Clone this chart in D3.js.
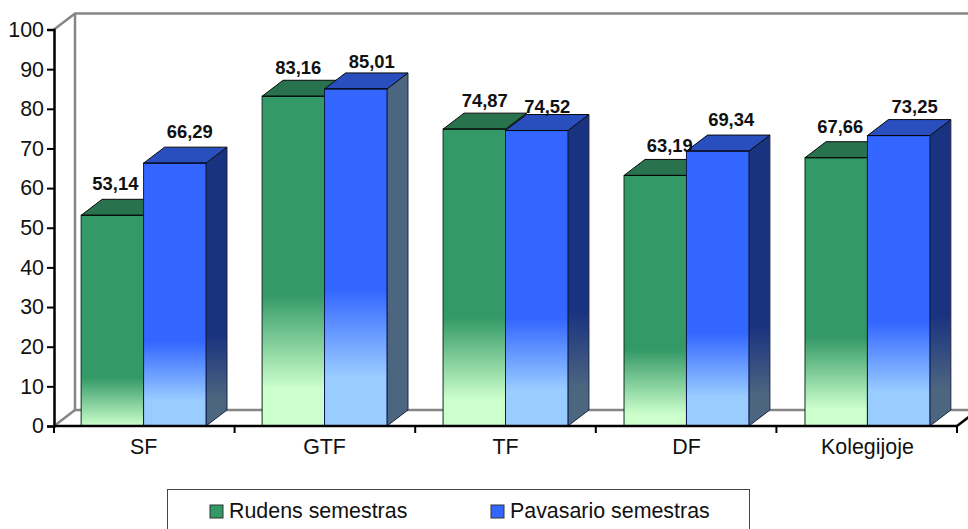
<!DOCTYPE html>
<html><head><meta charset="utf-8">
<script src="https://cdn.jsdelivr.net/npm/d3@7/dist/d3.min.js"></script>
<style>html,body{margin:0;background:#fff;overflow:hidden}svg{display:block}text{font-family:"Liberation Sans",Arial,sans-serif}</style>
</head><body><svg id="c" width="968" height="529"></svg>
<script>
const categories = ["SF","GTF","TF","DF","Kolegijoje"];
const seriesNames = ["Rudens semestras","Pavasario semestras"];
const rudens = [53.14,83.16,74.87,63.19,67.66];
const pavasario = [66.29,85.01,74.52,69.34,73.25];
const labelsRudens = ["53,14","83,16","74,87","63,19","67,66"];
const labelsPavasario = ["66,29","85,01","74,52","69,34","73,25"];
const yTicks = [0,10,20,30,40,50,60,70,80,90,100];

const svg = d3.select("#c");
const L=54,R=957,T=29.5,B=426,DX=21,DY=-16;
const x0 = d3.scaleBand().domain(categories).range([L,R]).paddingInner(0.31).paddingOuter(0.15);
const x1 = d3.scaleBand().domain([0,1]).range([0,x0.bandwidth()]);
const y = d3.scaleLinear().domain([0,100]).range([B,T]);
const palette = [
 {front:"#339966",low:"#ccffcc",top:"#28724e",sideA:"#28724e",sideB:"#4d6680",edge:"#0c2f1e",fadeEnd:-18},
 {front:"#3366ff",low:"#99ccff",top:"#294fbf",sideA:"#1a3380",sideB:"#4d6680",edge:"#0a1a55",fadeEnd:-15.5}
];
// hand-placed data labels: offsets from the top-centre of each bar
const labelNudge = [
 [[3,-25.5],[5,-22],[10.5,-22],[14.5,-23],[4,-25]],
 [[15,-25],[16,-21],[10.5,-18],[13.5,-25],[16,-23]]
];
const defs = svg.append("defs");
const wall = svg.append("g").attr("fill","none").attr("stroke","#868686").attr("stroke-width",2.5);
const poly = pts => pts.map(p=>p.join(",")).join(" ");
wall.append("polyline").attr("points",poly([[L,y(100)],[L+DX,y(100)+DY],[968,y(100)+DY]]));
wall.append("polyline").attr("points",poly([[L+DX,y(100)+DY],[L+DX,B+DY],[968,B+DY]]));
wall.append("line").attr("x1",L).attr("y1",B).attr("x2",L+DX).attr("y2",B+DY);
wall.append("line").attr("x1",R).attr("y1",B).attr("x2",R+DX).attr("y2",B+DY).attr("stroke","#000");

function grad(id,a,b,v,fadeEnd){
  const s = Math.max(0,0.70*v-25)/v, e = Math.max(0,0.33*v+fadeEnd)/v;
  const g = defs.append("linearGradient").attr("id",id).attr("x1",0).attr("x2",0).attr("y1",0).attr("y2",1);
  g.append("stop").attr("offset",0).attr("stop-color",a);
  g.append("stop").attr("offset",1-s).attr("stop-color",a);
  g.append("stop").attr("offset",1-e).attr("stop-color",b);
  g.append("stop").attr("offset",1).attr("stop-color",b);
}
const bars = svg.append("g");
categories.forEach((c,ci)=>{
  [rudens,pavasario].forEach((vals,si)=>{
    const v=vals[ci],p=palette[si];
    const xa=x0(c)+x1(si),w=x1.bandwidth(),yt=y(v);
    grad(`f${si}${ci}`,p.front,p.low,v,p.fadeEnd);
    grad(`s${si}${ci}`,p.sideA,p.sideB,v,p.fadeEnd);
    const sideFill = si===0 ? p.sideA : (v>80 ? p.sideB : `url(#s${si}${ci})`);
    const g=bars.append("g").attr("class","bar");
    g.append("polygon").attr("points",poly([[xa+w,yt],[xa+w+DX,yt+DY],[xa+w+DX,B+DY],[xa+w,B]]))
      .attr("fill",sideFill).attr("stroke","#1c2540").attr("stroke-width",1);
    g.append("polygon").attr("points",poly([[xa,yt],[xa+DX,yt+DY],[xa+w+DX,yt+DY],[xa+w,yt]]))
      .attr("fill",p.top).attr("stroke","#0a0a0a").attr("stroke-width",1);
    g.append("rect").attr("x",xa).attr("y",yt).attr("width",w).attr("height",B-yt)
      .attr("fill",`url(#f${si}${ci})`).attr("stroke",p.edge).attr("stroke-width",1);
    g.append("line").attr("x1",xa).attr("x2",xa+w).attr("y1",yt).attr("y2",yt).attr("stroke","#050505").attr("stroke-width",1);
  });
});
// axes
const yAxis = d3.axisLeft(y).tickValues(yTicks).tickSize(7).tickPadding(3).tickFormat(d3.format("d"));
const ya = svg.append("g").attr("transform",`translate(${L},0)`).call(yAxis);
const xa = svg.append("g").attr("transform",`translate(0,${B})`).call(d3.axisBottom(x0).tickSize(0).tickPadding(13));
[ya,xa].forEach(a=>{
  a.selectAll(".domain").attr("stroke","#000").attr("stroke-width",2.5);
  a.selectAll("line").attr("stroke","#000").attr("stroke-width",2);
  a.selectAll("text").attr("font-family","Liberation Sans").attr("font-size",21.4).attr("fill","#111");
});
xa.select(".domain").attr("d",`M${L},0H${R}`);
const edge = d3.range(categories.length+1).map(i=>L+i*(R-L)/categories.length);
xa.selectAll("line.edge").data(edge).enter().append("line").attr("class","edge")
  .attr("x1",d=>d).attr("x2",d=>d).attr("y1",0).attr("y2",7).attr("stroke","#000").attr("stroke-width",2);
// value labels
const lab = svg.append("g").attr("font-weight","bold").attr("font-size",18.4).attr("fill","#111").attr("text-anchor","middle");
categories.forEach((c,ci)=>{
  [[rudens,labelsRudens],[pavasario,labelsPavasario]].forEach(([vals,txt],si)=>{
    const [dx,dy]=labelNudge[si][ci];
    lab.append("text").attr("x",x0(c)+x1(si)+x1.bandwidth()/2+dx).attr("y",y(vals[ci])+dy).text(txt[ci]);
  });
});
// legend
const lg = svg.append("g");
lg.append("rect").attr("x",167.5).attr("y",489.5).attr("width",582).attr("height",60).attr("fill","#fff").attr("stroke","#444").attr("stroke-width",1);
[[210,229],[491,510]].forEach(([sx,tx],i)=>{
  lg.append("rect").attr("x",sx).attr("y",505).attr("width",13).attr("height",13).attr("fill",palette[i].front).attr("stroke","#333");
  lg.append("text").attr("x",tx).attr("y",518).attr("font-size",21.4).attr("fill","#111").text(seriesNames[i]);
});
</script></body></html>
